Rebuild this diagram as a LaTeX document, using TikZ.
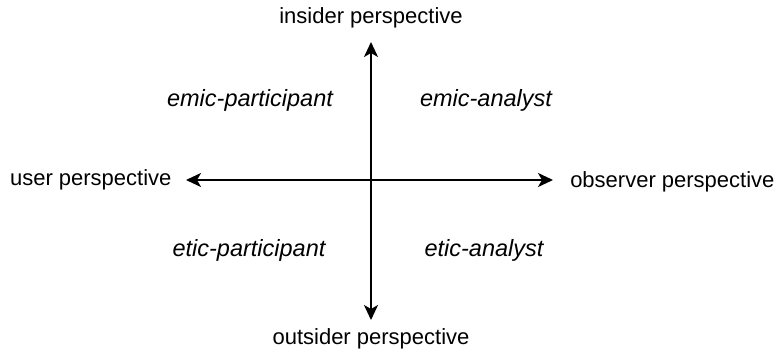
\documentclass[tikz,border=0pt]{standalone}
\usepackage{fontspec}
\setmainfont{Liberation Sans}
\usetikzlibrary{arrows.meta}
\tikzset{
    axis/.style={line width=2pt, {Stealth[length=15pt,width=14pt,inset=4pt]}-{Stealth[length=15pt,width=14pt,inset=4pt]}},
    pole/.style={font=\fontsize{22}{26}\selectfont},
    quadrant/.style={font=\fontsize{23.5}{27}\selectfont\itshape}
}
\begin{document}
\begin{tikzpicture}[x=1pt,y=-1pt]
    % Rahmen wie im Screenshot
    \useasboundingbox (0,0) rectangle (776,351);
    % Achsenenden
    \coordinate (left) at (186,180);
    \coordinate (right) at (553,180);
    \coordinate (top) at (371,42);
    \coordinate (bottom) at (371,320);
    \draw[axis] (left) -- (right);
    \draw[axis] (top) -- (bottom);
    % Pole
    \node[pole, anchor=east] (user) at (175,180) {user perspective};
    \node[pole, anchor=east] (observer) at (778,182) {observer perspective};
    \node[pole] (insider) at (371,18) {insider perspective};
    \node[pole] (outsider) at (371,339) {outsider perspective};
    % Quadranten
    \node[quadrant] (emicpart) at (250,100) {emic-participant};
    \node[quadrant] (emicana) at (486,100) {emic-analyst};
    \node[quadrant] (eticpart) at (249,250) {etic-participant};
    \node[quadrant] (eticana) at (484,250) {etic-analyst};
\end{tikzpicture}
\end{document}
